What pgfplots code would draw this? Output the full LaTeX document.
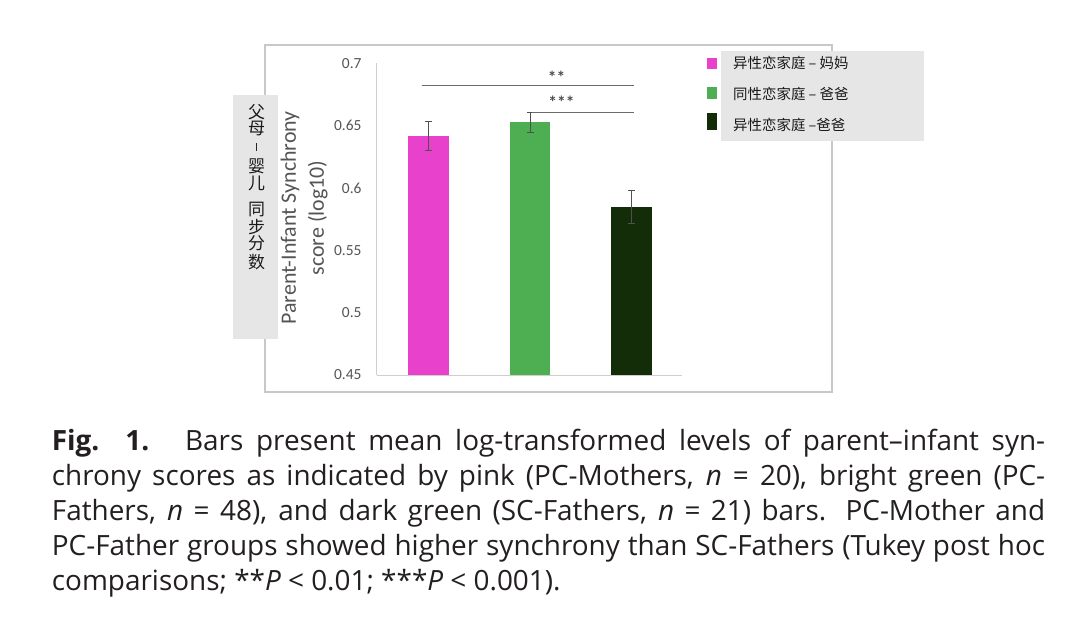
\documentclass[border=0pt]{standalone}
\usepackage{fontspec}
\usepackage{graphicx}
\usepackage{pgfplots}
\pgfplotsset{compat=1.18}
\setmainfont{Carlito}
\newfontfamily\capfont{Open Sans}
\newfontfamily\cjk{Noto Sans CJK SC}
\definecolor{pinkc}{HTML}{E841CB}
\definecolor{greenc}{HTML}{4DAE52}
\definecolor{darkc}{HTML}{142D09}
\definecolor{framec}{HTML}{C8C8C8}
\definecolor{boxc}{HTML}{E6E6E6}
\definecolor{tickc}{HTML}{555555}
\definecolor{axisc}{HTML}{CFCFCF}
\definecolor{errc}{HTML}{505050}
\definecolor{sigc}{HTML}{6A6A6A}
\definecolor{capc}{HTML}{231F20}
\begin{document}
\begin{tikzpicture}
\useasboundingbox (0,0) rectangle (1080bp,-633bp);
\begin{scope}[x=1bp,y=-1bp]
\fill[white] (0,0) rectangle (1080,633);
\draw[framec, line width=1.8bp] (265,45) rectangle (831.7,391.7);
\fill[boxc] (720.7,50.7) rectangle (924.3,140.7);
\fill[boxc] (233.3,95) rectangle (277.7,339);
\end{scope}
\begin{axis}[
  at={(376.7bp,-375bp)}, anchor=south west,
  scale only axis, width=305bp, height=311.7bp,
  xmin=-0.513, xmax=2.497, ymin=0.45, ymax=0.7,
  clip mode=individual,
  axis x line*=bottom, axis y line*=left,
  axis line style={draw=axisc, line width=1bp, -},
  xtick=\empty,
  ytick={0.45,0.5,0.55,0.6,0.65,0.7},
  yticklabels={0.45,0.5,0.55,0.6,0.65,0.7},
  /pgf/number format/assume math mode=true,
  major tick length=0pt,
  yticklabel style={font=\fontsize{15.5}{15.5}\selectfont, text=tickc, inner sep=0pt, anchor=east, xshift=-15bp},
  ylabel={Parent-Infant Synchrony\\score (log10)},
  ylabel style={at={(axis description cs:-0.2377,0.504)}, anchor=center, align=center,
    font=\fontsize{22}{28}\selectfont, text=tickc},
  legend style={at={(axis description cs:1.082,1.0225)}, anchor=north west, draw=none, fill=none,
    inner sep=0pt, outer sep=0pt, row sep=16.85bp, column sep=16.5bp,
    font=\cjk\fontsize{14.5}{14.5}\selectfont, text=black!90,
    nodes={inner sep=0pt, text height=12.5bp, text depth=1.5bp}},
  legend cell align=left,
  error bars/y dir=both, error bars/y explicit,
  error bars/error bar style={errc, line width=0.9bp},
  error bars/error mark options={errc, rotate=90, mark size=3.5bp, line width=0.9bp},
]
\addplot[ybar, bar width=40.7bp, bar shift=0pt, fill=pinkc, draw=none,
  legend image code/.code={\path (0bp,-5bp) rectangle (10bp,5bp); \fill[pinkc, overlay] (0bp,-6bp) rectangle (10bp,4bp);}]
  coordinates {(0,0.6417) +- (0,0.0113)};
\addlegendentry{异性恋家庭 – 妈妈}
\addplot[ybar, bar width=40.7bp, bar shift=0pt, fill=greenc, draw=none,
  legend image code/.code={\path (0bp,-5bp) rectangle (10bp,5bp); \fill[greenc, overlay] (0bp,-2.7bp) rectangle (10bp,7.3bp);}]
  coordinates {(1,0.6529) +- (0,0.0080)};
\addlegendentry{同性恋家庭 – 爸爸}
\addplot[ybar, bar width=40.7bp, bar shift=0pt, fill=darkc, draw=none,
  legend image code/.code={\path (0bp,-5bp) rectangle (10bp,5bp); \fill[darkc, overlay] (0bp,2bp) rectangle (10bp,12bp);}]
  coordinates {(2,0.5850) +- (0,0.0132)};
\addlegendentry{异性恋家庭 –爸爸}
\addplot[sharp plot, sigc, line width=1.3bp, forget plot, no markers, error bars/y dir=none] coordinates {(-0.069,0.682) (2.027,0.682)};
\addplot[sharp plot, sigc, line width=1.3bp, forget plot, no markers, error bars/y dir=none] coordinates {(1.017,0.6607) (2.027,0.6607)};
\node[font=\bfseries\fontsize{17.5}{17.5}\selectfont, text=black!70, inner sep=0pt] at (axis cs:1.262,0.6889) {**};
\node[font=\bfseries\fontsize{17.5}{17.5}\selectfont, text=black!70, inner sep=0pt] at (axis cs:1.31,0.6688) {***};
\end{axis}
\begin{scope}[x=1bp,y=-1bp]
\foreach \ch/\yy in {父/111.7,母/128.3,婴/166.7,儿/183.3,同/210,步/226.7,分/243.3,数/261.7}
  \node[font=\cjk\fontsize{17}{17}\selectfont, text=black!90, inner sep=0pt] at (256.7,\yy) {\ch};
\node[inner sep=0pt, text=black!85] at (256.7,146.7) {\rule{1.3bp}{8bp}};
\node[anchor=base west, inner sep=0pt, text=capc] at (51.7,450) {\parbox[t]{993.3bp}{\capfont\fontsize{28}{35.3}\selectfont
\makebox[993.3bp][s]{\textbf{Fig. 1.}\hspace{0.35em} Bars present mean log-transformed levels of parent–infant syn-}\\
\makebox[993.3bp][s]{chrony scores as indicated by pink (PC-Mothers, \textit{n} = 20), bright green (PC-}\\
\makebox[993.3bp][s]{Fathers, \textit{n} = 48), and dark green (SC-Fathers, \textit{n} = 21) bars. PC-Mother and}\\
\makebox[993.3bp][s]{PC-Father groups showed higher synchrony than SC-Fathers (Tukey post hoc}\\
comparisons; **\textit{P} < 0.01; ***\textit{P} < 0.001).}};
\end{scope}
\end{tikzpicture}
\end{document}
